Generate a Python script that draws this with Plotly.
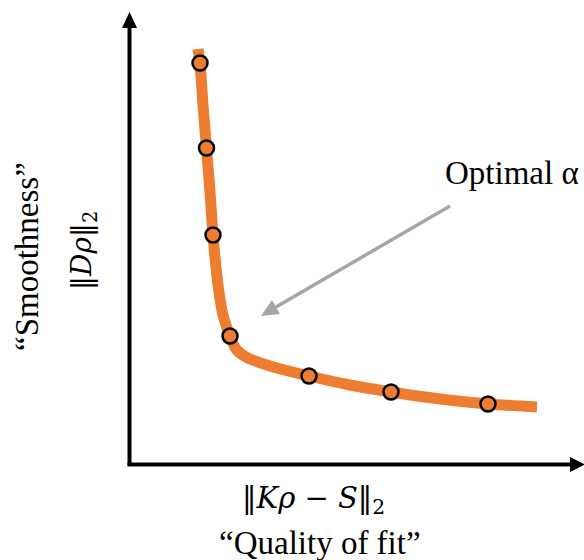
import plotly.graph_objects as go

# Data (in chart units: origin at the axes corner)
curve_x = [68, 70, 73, 76.5, 80, 83, 88, 93, 100, 106, 116, 140, 179, 220, 261, 310, 358, 407]
curve_y = [414, 400, 358, 315, 271, 228, 178, 148, 127, 114, 106, 97, 87, 78, 71, 64, 59, 56]
point_x = [70, 76.5, 83, 100, 179, 261, 358]
point_y = [400, 315, 228, 127, 87, 71, 59]

ORANGE = "#ED7D31"
GREY = "#A6A6A6"
SERIF = "Liberation Serif"
MATH = "DejaVu Serif"

W, H = 584, 560
X0, Y0 = 130, 463  # pixel position of the origin


def P(px, py):
    return px - X0, Y0 - py


def tri(pts):
    d = "M " + " L ".join(f"{P(*p)[0]},{P(*p)[1]}" for p in pts) + " Z"
    return d


fig = go.Figure()
fig.add_trace(go.Scatter(x=curve_x, y=curve_y, mode="lines",
                         line=dict(color=ORANGE, width=11, shape="spline", smoothing=0.8),
                         hoverinfo="skip", showlegend=False))
fig.add_trace(go.Scatter(x=point_x, y=point_y, mode="markers",
                         marker=dict(size=15, color=ORANGE, line=dict(color="black", width=2.5)),
                         showlegend=False))

shapes = []
# y axis
a, b = P(129.5, 465), P(129.5, 26)
shapes.append(dict(type="line", x0=a[0], y0=a[1], x1=b[0], y1=b[1], line=dict(color="black", width=4)))
shapes.append(dict(type="path", path=tri([(129.5, 12), (122, 28), (137, 28)]), fillcolor="black", line=dict(width=0)))
# x axis
a, b = P(127.5, 464.5), P(572, 464.5)
shapes.append(dict(type="line", x0=a[0], y0=a[1], x1=b[0], y1=b[1], line=dict(color="black", width=4)))
shapes.append(dict(type="path", path=tri([(585, 464.5), (570, 457), (570, 472)]), fillcolor="black", line=dict(width=0)))
# grey pointer arrow
a, b = P(450, 206), P(276, 307)
shapes.append(dict(type="line", x0=a[0], y0=a[1], x1=b[0], y1=b[1], line=dict(color=GREY, width=3.5)))
shapes.append(dict(type="path", path=tri([(261, 316), (280, 314), (272, 300)]), fillcolor=GREY, line=dict(width=0)))

annotations = []


def txt(px, py, text, size, angle=0, font=SERIF):
    x, y = P(px, py)
    annotations.append(dict(x=x, y=y, text=text, showarrow=False, textangle=angle,
                            xanchor="center", yanchor="middle",
                            font=dict(family=font, size=size, color="black")))


txt(313, 500, "‖<i>Kρ</i> − <i>S</i>‖<sub>2</sub>", 29, font=MATH)
txt(320, 543, "“Quality of fit”", 33)
txt(27, 257, "“Smoothness”", 33, angle=-90)
txt(83, 251, "‖<i>Dρ</i>‖<sub>2</sub>", 28, angle=-90, font=MATH)
txt(512, 173, "Optimal α", 33)

fig.update_layout(
    width=W, height=H,
    margin=dict(l=0, r=0, t=0, b=0),
    paper_bgcolor="white", plot_bgcolor="white",
    xaxis=dict(range=[-X0, W - X0], visible=False, fixedrange=True),
    yaxis=dict(range=[Y0 - H, Y0], visible=False, fixedrange=True),
    shapes=shapes, annotations=annotations,
)

fig.write_html("out.html")
